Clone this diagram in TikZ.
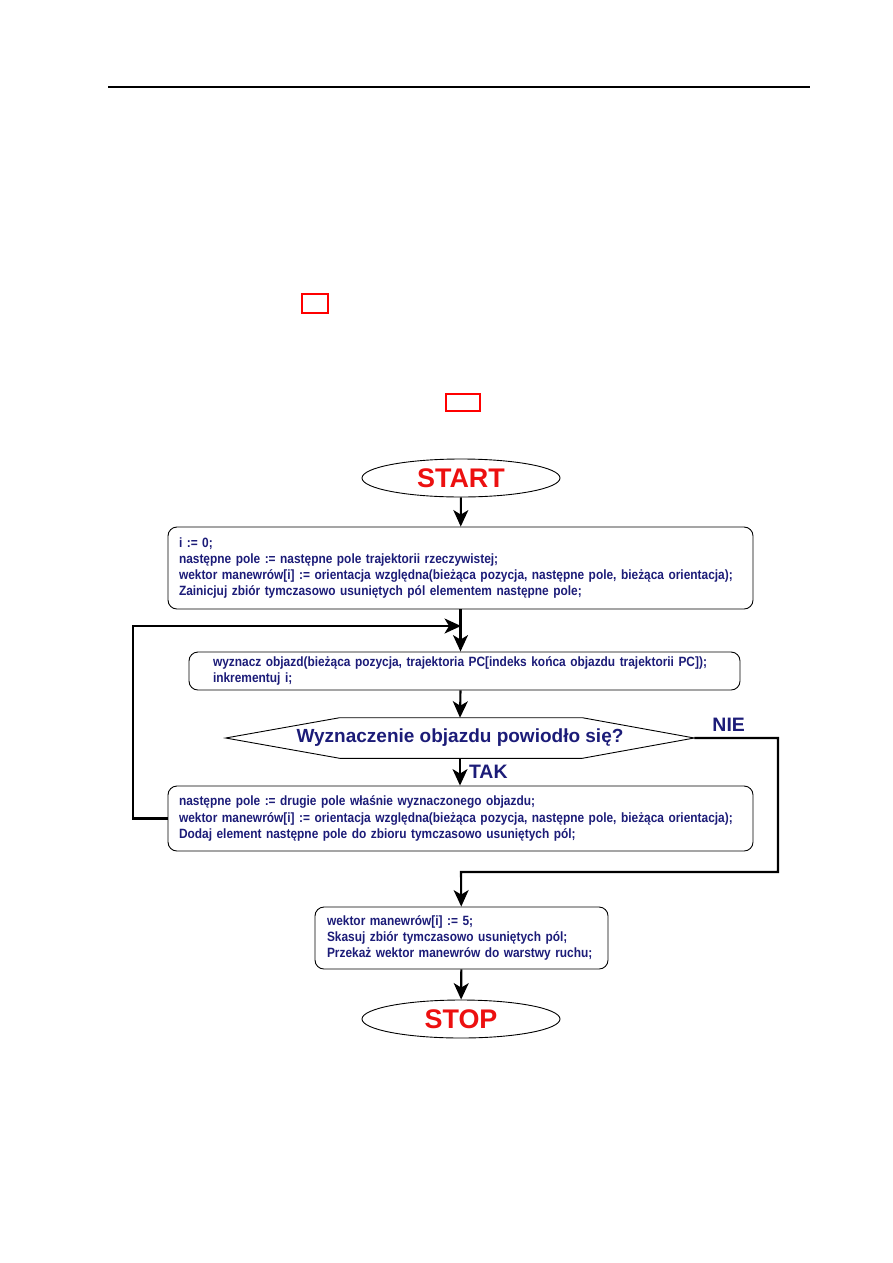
\documentclass[tikz,border=0pt]{standalone}
\usepackage{fontspec}
\setmainfont{Liberation Sans}
\newfontfamily\narrowfont[FakeStretch=0.885]{Liberation Sans}
\usetikzlibrary{arrows.meta,calc,shapes.geometric}
\definecolor{navy}{RGB}{28,28,120}
\definecolor{termred}{RGB}{236,16,16}
\newcommand{\pxu}{0.0235cm}

\begin{document}
\begin{tikzpicture}[x=\pxu, y=-\pxu, >={Stealth[length=11pt, width=10pt, inset=3pt]},
  flow/.style={->, line width=1.4pt},
  term/.style={draw, ellipse, line width=0.6pt, inner sep=0pt, minimum width={198*\pxu}, minimum height={38*\pxu}, text=termred, font=\bfseries\fontsize{18}{20}\selectfont},
  procbox/.style={draw, line width=0.6pt, rounded corners=6pt, inner sep=0pt, text=navy, align=left, font=\narrowfont\bfseries\fontsize{9}{10.9}\selectfont},
  lab/.style={text=navy, font=\bfseries\fontsize{13}{14}\selectfont}]
\useasboundingbox (0,0) rectangle (893,1263);
% page rule and link frames
\draw[line width=0.7pt] (108,87) -- (810,87);
\draw[red, line width=1pt] (302,294) rectangle (328,313);
\draw[red, line width=0.7pt] (446,394) rectangle (480,411);
% terminals
\node[term] (start) at (461,478) {START};
\node[term] (stop) at (461,1019) {STOP};
% process boxes
\node[procbox, minimum width={585*\pxu}, minimum height={82*\pxu}, text width={563*\pxu}] (init) at (460.5,568)
  {i := 0;\\następne pole := następne pole trajektorii rzeczywistej;\\wektor manewrów[i] := orientacja względna(bieżąca pozycja, następne pole, bieżąca orientacja);\\Zainicjuj zbiór tymczasowo usuniętych pól elementem następne pole;};
\node[procbox, minimum width={551*\pxu}, minimum height={38*\pxu}, text width={503*\pxu}] (detour) at (464.5,671)
  {wyznacz objazd(bieżąca pozycja, trajektoria PC[indeks końca objazdu trajektorii PC]);\\inkrementuj i;};
\node[procbox, minimum width={585*\pxu}, minimum height={65*\pxu}, text width={563*\pxu}] (update) at (460.5,818.5)
  {następne pole := drugie pole właśnie wyznaczonego objazdu;\\wektor manewrów[i] := orientacja względna(bieżąca pozycja, następne pole, bieżąca orientacja);\\Dodaj element następne pole do zbioru tymczasowo usuniętych pól;};
\node[procbox, minimum width={293*\pxu}, minimum height={62*\pxu}, text width={269*\pxu}] (final) at (461.5,938)
  {wektor manewrów[i] := 5;\\Skasuj zbiór tymczasowo usuniętych pól;\\Przekaż wektor manewrów do warstwy ruchu;};
% decision
\node[inner sep=0pt, minimum width={468*\pxu}, minimum height={40*\pxu}, text=navy, font=\bfseries\fontsize{12.7}{14}\selectfont] (test) at (460,738) {Wyznaczenie objazdu powiodło się?};
\draw[line width=0.6pt] (test.west) -- ($(test.north west)+(114,0)$) -- ($(test.north east)+(-112,0)$) -- (test.east)
  -- ($(test.south east)+(-112,0)$) -- ($(test.south west)+(114,0)$) -- cycle;
% flow
\coordinate (join) at (461,626);
\coordinate (merge) at (461,872);
\coordinate (nieturn) at (778,872);
\draw[flow] (start) -- (init);
\draw[flow] (init.south) -- (init.south |- detour.north);
\draw[flow] (init.south |- detour.south) -- (test.north);
\draw[flow] (test.south) -- node[right, lab, xshift=2pt] {TAK} (test.south |- update.north);
\draw[flow] (update.west) -- ++(-35,0) |- (join);
\draw[flow] (test.east) -- node[above, lab, xshift=-5pt] {NIE} (test.east -| nieturn) -- (nieturn) -- (merge) -- (final);
\draw[flow] (final) -- (stop);
\end{tikzpicture}
\end{document}
